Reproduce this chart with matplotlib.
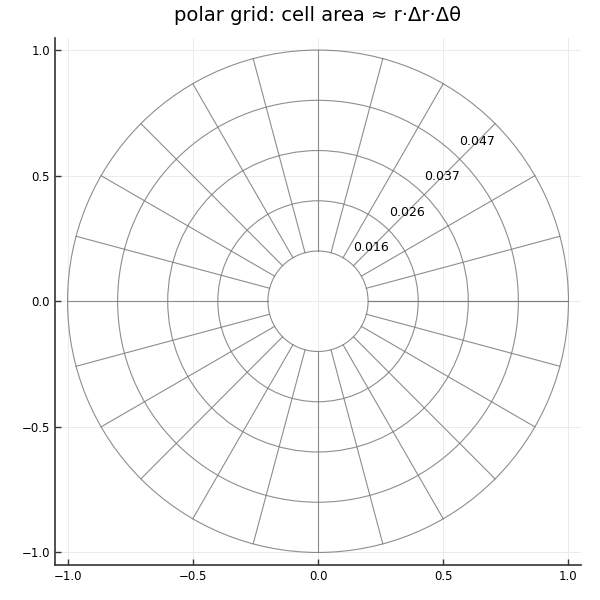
import numpy as np
import matplotlib
matplotlib.use('Agg')
import matplotlib.pyplot as plt
from matplotlib.patches import Circle

# ring edges and spoke count
radii = [0.2, 0.4, 0.6, 0.8, 1.0]
n_spokes = 24
# cell area labels along the 45 degree spoke
label_r = [0.3, 0.5, 0.7, 0.9]
label_txt = ['0.016', '0.026', '0.037', '0.047']
label_theta = np.pi / 4

ticks = [-1.0, -0.5, 0.0, 0.5, 1.0]
tick_labels = ['\u22121.0', '\u22120.5', '0.0', '0.5', '1.0']

fig = plt.figure(figsize=(6, 6), dpi=100)
ax = fig.add_axes([0.0917, 0.0583, 0.8766, 0.8792])

line_col = '#7a7a7a'
for r in radii:
    ax.add_patch(Circle((0, 0), r, fill=False, edgecolor=line_col, lw=0.8, alpha=0.85))

# spokes, theta runs 0..2pi inclusive so the one at 0 is drawn twice
thetas = np.linspace(0, 2 * np.pi, n_spokes + 1)
for t in thetas:
    ax.plot([radii[0] * np.cos(t), radii[-1] * np.cos(t)],
            [radii[0] * np.sin(t), radii[-1] * np.sin(t)],
            color=line_col, lw=0.8, alpha=0.85)

for r, s in zip(label_r, label_txt):
    ax.text(r * np.cos(label_theta), r * np.sin(label_theta), s,
            ha='center', va='center', fontsize=9)

ax.set_xlim(-1.05, 1.05)
ax.set_ylim(-1.05, 1.05)
ax.set_xticks(ticks)
ax.set_yticks(ticks)
ax.set_xticklabels(tick_labels)
ax.set_yticklabels(tick_labels)
ax.tick_params(direction='in', length=4, width=1, labelsize=8.5, color='#333333')
ax.grid(True, color='#e8e8e8', lw=0.6)
ax.set_axisbelow(True)
for side in ['top', 'right']:
    ax.spines[side].set_visible(False)
for side in ['left', 'bottom']:
    ax.spines[side].set_color('#333333')
    ax.spines[side].set_linewidth(1.2)

ax.set_title('polar grid: cell area \u2248 r\u00b7\u0394r\u00b7\u0394\u03b8', fontsize=14, pad=12)

fig.savefig('out.png', dpi=100)
